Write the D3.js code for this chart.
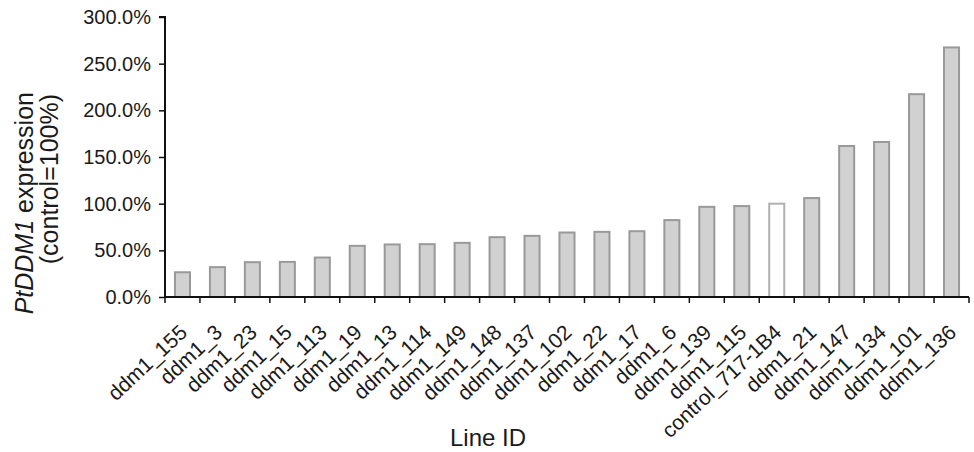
<!DOCTYPE html>
<html>
<head>
<meta charset="utf-8">
<script src="https://cdn.jsdelivr.net/npm/d3@7"></script>
<style>
  body { margin: 0; background: #fff; }
  text { font-family: "Liberation Sans", Arial, sans-serif; fill: #1a1a1a; }
</style>
</head>
<body>
<div id="chart"></div>
<script>
// line IDs, left to right
var lines = ["ddm1_155", "ddm1_3", "ddm1_23", "ddm1_15", "ddm1_113", "ddm1_19", "ddm1_13",
  "ddm1_114", "ddm1_149", "ddm1_148", "ddm1_137", "ddm1_102", "ddm1_22", "ddm1_17",
  "ddm1_6", "ddm1_139", "ddm1_115", "control_717-1B4", "ddm1_21", "ddm1_147",
  "ddm1_134", "ddm1_101", "ddm1_136"];

// expression relative to control (1 = 100%)
var expression = [0.265, 0.32, 0.373, 0.376, 0.423, 0.548, 0.563, 0.566, 0.58, 0.641,
  0.655, 0.691, 0.698, 0.705, 0.824, 0.966, 0.974, 1.0, 1.06, 1.618, 1.661, 2.173, 2.674];

var yTicks = [0, 0.5, 1, 1.5, 2, 2.5, 3];
var controlId = "control_717-1B4";

var data = lines.map(function(d, i) { return {id: d, value: expression[i]}; });

// set the dimensions and margins of the graph
var margin = {top: 17, right: 5, bottom: 155, left: 165},
    width = 974 - margin.left - margin.right,
    height = 452 - margin.top - margin.bottom;

var svg = d3.select("#chart").append("svg")
    .attr("width", 974)
    .attr("height", 452);

var g = svg.append("g")
    .attr("transform", "translate(" + margin.left + "," + margin.top + ")");

var x = d3.scaleBand().domain(lines).range([0, width]).paddingInner(0.57).paddingOuter(0.285);
var y = d3.scaleLinear().domain([0, 3]).range([height, 0]);

// bars
g.selectAll(".bar")
  .data(data)
  .enter().append("rect")
    .attr("class", "bar")
    .attr("x", function(d) { return x(d.id); })
    .attr("width", x.bandwidth())
    .attr("y", function(d) { return y(d.value); })
    .attr("height", function(d) { return height - y(d.value); })
    .attr("fill", function(d) { return d.id === controlId ? "#ffffff" : "#d0d1d0"; })
    .attr("stroke", function(d) { return d.id === controlId ? "#b0b0b0" : "#999999"; })
    .attr("stroke-width", 2);

// y axis
var yAxis = g.append("g")
    .call(d3.axisLeft(y).tickValues(yTicks).tickFormat(d3.format(".1%")).tickSize(6).tickPadding(8));
yAxis.select(".domain").attr("stroke", "#111").attr("stroke-width", 2).attr("d", "M0," + height + "V0H-6");
yAxis.selectAll(".tick line").attr("stroke", "#111").attr("stroke-width", 1.5);
yAxis.selectAll("text")
    .style("font-family", "Liberation Sans, Arial, sans-serif")
    .style("font-size", "20px")
    .attr("fill", "#1a1a1a");

// x axis line with ticks between categories
var xa = g.append("g").attr("transform", "translate(0," + height + ")");
xa.append("line")
    .attr("x1", 0).attr("x2", width)
    .attr("stroke", "#111").attr("stroke-width", 2);
xa.selectAll(".xtick")
  .data(d3.range(lines.length + 1))
  .enter().append("line")
    .attr("class", "xtick")
    .attr("x1", function(i) { return i * x.step(); })
    .attr("x2", function(i) { return i * x.step(); })
    .attr("y1", 0).attr("y2", 6)
    .attr("stroke", "#111").attr("stroke-width", 1.5);

xa.selectAll(".xlabel")
  .data(lines)
  .enter().append("text")
    .attr("class", "xlabel")
    .attr("transform", function(d) {
      return "translate(" + (x(d) + x.bandwidth() / 2 + 6) + ",37) rotate(-43)";
    })
    .attr("text-anchor", "end")
    .style("font-size", "21px")
    .text(function(d) { return d; });

// axis titles
var yt = svg.append("text")
    .attr("transform", "translate(33,92) rotate(-90)")
    .attr("text-anchor", "end")
    .style("font-size", "25px");
yt.append("tspan").style("font-style", "italic").text("PtDDM1");
yt.append("tspan").text(" expression");

svg.append("text")
    .attr("transform", "translate(58,94) rotate(-90)")
    .attr("text-anchor", "end")
    .style("font-size", "25px")
    .text("(control=100%)");

svg.append("text")
    .attr("x", 488)
    .attr("y", 446)
    .attr("text-anchor", "middle")
    .style("font-size", "24px")
    .text("Line ID");
</script>
</body>
</html>
